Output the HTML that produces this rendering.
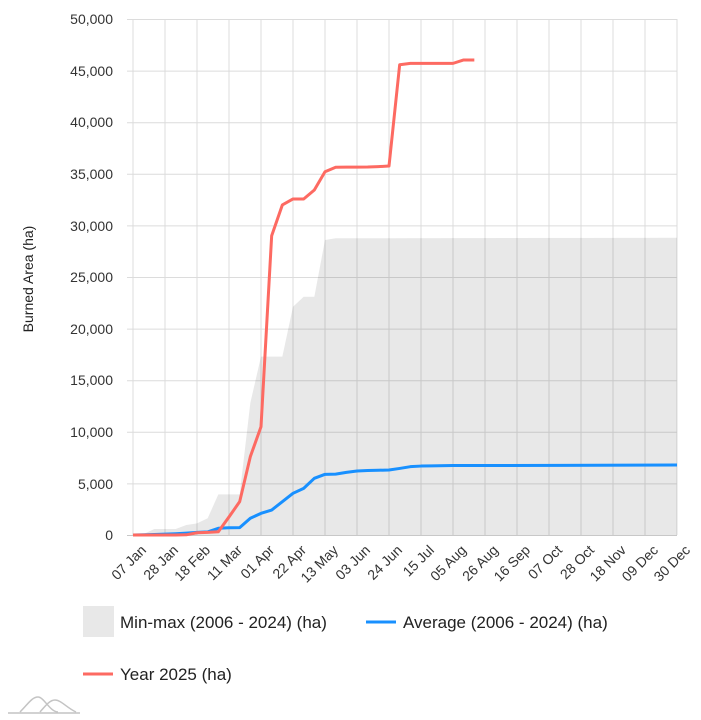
<!DOCTYPE html>
<html><head><meta charset="utf-8"><style>
html,body{margin:0;padding:0;background:#fff;}
svg{display:block;font-family:"Liberation Sans",Arial,sans-serif;}
</style></head><body>
<svg width="701" height="720" viewBox="0 0 701 720" xmlns="http://www.w3.org/2000/svg">
<g stroke="#dcdcdc" stroke-width="1">
<line x1="127" y1="19.5" x2="677" y2="19.5"/>
<line x1="127" y1="71.1" x2="677" y2="71.1"/>
<line x1="127" y1="122.7" x2="677" y2="122.7"/>
<line x1="127" y1="174.3" x2="677" y2="174.3"/>
<line x1="127" y1="225.9" x2="677" y2="225.9"/>
<line x1="127" y1="277.5" x2="677" y2="277.5"/>
<line x1="127" y1="329.1" x2="677" y2="329.1"/>
<line x1="127" y1="380.7" x2="677" y2="380.7"/>
<line x1="127" y1="432.3" x2="677" y2="432.3"/>
<line x1="127" y1="483.9" x2="677" y2="483.9"/>
<line x1="133" y1="19" x2="133" y2="535"/>
<line x1="165" y1="19" x2="165" y2="535"/>
<line x1="197" y1="19" x2="197" y2="535"/>
<line x1="229" y1="19" x2="229" y2="535"/>
<line x1="261" y1="19" x2="261" y2="535"/>
<line x1="293" y1="19" x2="293" y2="535"/>
<line x1="325" y1="19" x2="325" y2="535"/>
<line x1="357" y1="19" x2="357" y2="535"/>
<line x1="389" y1="19" x2="389" y2="535"/>
<line x1="421" y1="19" x2="421" y2="535"/>
<line x1="453" y1="19" x2="453" y2="535"/>
<line x1="485" y1="19" x2="485" y2="535"/>
<line x1="517" y1="19" x2="517" y2="535"/>
<line x1="549" y1="19" x2="549" y2="535"/>
<line x1="581" y1="19" x2="581" y2="535"/>
<line x1="613" y1="19" x2="613" y2="535"/>
<line x1="645" y1="19" x2="645" y2="535"/>
<line x1="677" y1="19" x2="677" y2="535"/>
</g>
<path d="M133,535 L143.67,533.97 L154.33,529.01 L175.67,529.01 L186.33,524.99 L197,523.34 L207.67,518.28 L218.33,494.34 L239.67,494.34 L250.33,402.9 L261,356.67 L282.33,356.67 L293,306.72 L303.67,296.71 L314.33,296.71 L325,239.95 L335.67,238.3 L677,237.78 L677,535 Z" fill="#000" fill-opacity="0.09"/>
<line x1="127" y1="535.5" x2="677" y2="535.5" stroke="#c8c8c8" stroke-width="1"/>
<polyline fill="none" stroke="#1890ff" stroke-width="3" stroke-linejoin="round" points="133,535 143.67,534.79 154.33,534.48 165,534.17 175.67,533.76 186.33,533.14 197,532.42 207.67,531.9 218.33,528.29 229,527.78 239.67,527.67 250.33,518.28 261,513.33 271.67,510.03 282.33,501.67 293,493.31 303.67,488.35 314.33,478.34 325,474.32 335.67,474.11 346.33,472.36 357,471.02 367.67,470.5 378.33,470.29 389,469.98 399.67,468.44 410.33,466.68 421,466.06 431.67,465.86 453,465.55 560,465.34 677,465.03"/>
<polyline fill="none" stroke="#fd6a62" stroke-width="3" stroke-linejoin="round" points="133,535 175.67,535 186.33,534.8 197,532.73 207.67,532.32 218.33,531.7 229,516.94 239.67,501.67 250.33,456.67 261,426.74 271.67,235.72 282.33,204.97 293,198.98 303.67,198.98 314.33,190 325,171.74 335.67,167.3 346.33,167.09 357,167.09 367.67,166.99 378.33,166.58 389,166.06 399.67,64.72 410.33,63.38 453,63.38 463.67,59.97 474.33,59.97"/>
<g font-size="14" fill="#333" text-anchor="end">
<text x="113" y="24">50,000</text>
<text x="113" y="76">45,000</text>
<text x="113" y="127">40,000</text>
<text x="113" y="179">35,000</text>
<text x="113" y="231">30,000</text>
<text x="113" y="282">25,000</text>
<text x="113" y="334">20,000</text>
<text x="113" y="385">15,000</text>
<text x="113" y="437">10,000</text>
<text x="113" y="489">5,000</text>
<text x="113" y="540">0</text>
</g>
<text transform="translate(33,279) rotate(-90)" font-size="14" fill="#222" text-anchor="middle">Burned Area (ha)</text>
<g font-size="14" fill="#333" text-anchor="end">
<text transform="translate(147,551) rotate(-45)">07 Jan</text>
<text transform="translate(179,551) rotate(-45)">28 Jan</text>
<text transform="translate(211,551) rotate(-45)">18 Feb</text>
<text transform="translate(243,551) rotate(-45)">11 Mar</text>
<text transform="translate(275,551) rotate(-45)">01 Apr</text>
<text transform="translate(307,551) rotate(-45)">22 Apr</text>
<text transform="translate(339,551) rotate(-45)">13 May</text>
<text transform="translate(371,551) rotate(-45)">03 Jun</text>
<text transform="translate(403,551) rotate(-45)">24 Jun</text>
<text transform="translate(435,551) rotate(-45)">15 Jul</text>
<text transform="translate(467,551) rotate(-45)">05 Aug</text>
<text transform="translate(499,551) rotate(-45)">26 Aug</text>
<text transform="translate(531,551) rotate(-45)">16 Sep</text>
<text transform="translate(563,551) rotate(-45)">07 Oct</text>
<text transform="translate(595,551) rotate(-45)">28 Oct</text>
<text transform="translate(627,551) rotate(-45)">18 Nov</text>
<text transform="translate(659,551) rotate(-45)">09 Dec</text>
<text transform="translate(691,551) rotate(-45)">30 Dec</text>
</g>
<rect x="83" y="606" width="31" height="31" fill="#e8e8e8"/>
<text x="120" y="628" font-size="17" fill="#222">Min-max (2006 - 2024) (ha)</text>
<line x1="366" y1="622" x2="396" y2="622" stroke="#1890ff" stroke-width="3"/>
<text x="403" y="628" font-size="17" fill="#222">Average (2006 - 2024) (ha)</text>
<line x1="83" y1="674" x2="113" y2="674" stroke="#fd6a62" stroke-width="3"/>
<text x="120" y="680" font-size="17" fill="#222">Year 2025 (ha)</text>
<g fill="none" stroke="#c4c4c4" stroke-width="1.5">
<path d="M8,713 L80,713"/>
<path d="M20,712 C28,704 32,697 38,697 C44,697 50,712 58,712"/>
<path d="M40,712 C46,705 50,700 55,700 C61,700 67,708 76,712"/>
</g>
</svg>
</body></html>
